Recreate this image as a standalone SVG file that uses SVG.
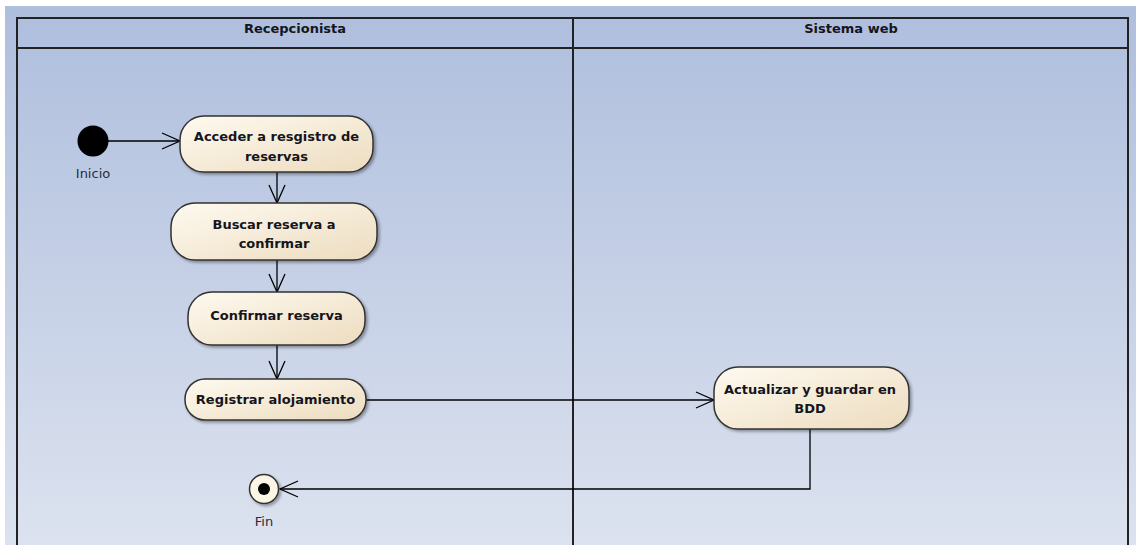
<svg xmlns="http://www.w3.org/2000/svg" width="1136" height="545" viewBox="0 0 1136 545">
<defs>
<linearGradient id="bg" x1="0" y1="0" x2="0" y2="1">
<stop offset="0" stop-color="#aebedd"/>
<stop offset="1" stop-color="#dce2ef"/>
</linearGradient>
<linearGradient id="nodeFill" x1="0" y1="0" x2="1" y2="1">
<stop offset="0" stop-color="#fefaf0"/>
<stop offset="1" stop-color="#eddcbf"/>
</linearGradient>
<filter id="sh" x="-10%" y="-10%" width="130%" height="140%">
<feGaussianBlur in="SourceAlpha" stdDeviation="1.5"/>
<feOffset dx="2" dy="2" result="b"/>
<feComponentTransfer><feFuncA type="linear" slope="0.35"/></feComponentTransfer>
<feMerge><feMergeNode/><feMergeNode in="SourceGraphic"/></feMerge>
</filter>
<marker id="open" viewBox="0 0 20 20" refX="19" refY="10" markerWidth="20" markerHeight="20" markerUnits="userSpaceOnUse" orient="auto">
<path d="M1,2 L19,10 L1,18" fill="none" stroke="#000" stroke-width="1.3"/>
</marker>
</defs>
<style>
.lane{fill:none;stroke:#222;stroke-width:2}
.hdr{font-family:"DejaVu Sans",Verdana,sans-serif;font-weight:bold;font-size:13px;fill:#151520;text-anchor:middle}
.act{fill:url(#nodeFill);stroke:#333;stroke-width:1.5;filter:url(#sh)}
.lbl{font-family:"DejaVu Sans",Verdana,sans-serif;font-weight:bold;font-size:13px;fill:#151520;text-anchor:middle}
.cap{font-family:"DejaVu Sans",Verdana,sans-serif;font-size:13px;fill:#2a2a3a;text-anchor:middle}
.edge{fill:none;stroke:#000;stroke-width:1.3;marker-end:url(#open)}
</style>
<rect x="0" y="0" width="1136" height="545" fill="#ffffff"/>
<rect x="5" y="6" width="1131" height="539" fill="url(#bg)"/>
<g id="lanes">
<path class="lane" d="M17,545 V18 H1128 V545"/>
<line class="lane" x1="17" y1="48" x2="1128" y2="48"/>
<line class="lane" x1="573" y1="18" x2="573" y2="545"/>
<text class="hdr" x="295" y="33">Recepcionista</text>
<text class="hdr" x="851" y="33">Sistema web</text>
</g>
<g id="connectors">
<line class="edge" x1="108" y1="141" x2="180" y2="141"/>
<line class="edge" x1="277" y1="172" x2="277" y2="203"/>
<line class="edge" x1="277" y1="260" x2="277" y2="292"/>
<line class="edge" x1="277" y1="345" x2="277" y2="379"/>
<line class="edge" x1="366" y1="400" x2="714" y2="400"/>
<path class="edge" d="M810,429 V489 H280"/>
</g>
<g id="inicio">
<circle cx="93" cy="141" r="15.5" fill="#000"/>
<text class="cap" x="93" y="178">Inicio</text>
</g>
<g id="acceder">
<rect class="act" x="180" y="116" width="193" height="56" rx="24"/>
<text class="lbl" x="276.5" y="141">Acceder a resgistro de</text>
<text class="lbl" x="276.5" y="161">reservas</text>
</g>
<g id="buscar">
<rect class="act" x="171" y="203" width="206" height="57" rx="24"/>
<text class="lbl" x="274" y="229">Buscar reserva a</text>
<text class="lbl" x="274" y="248">confirmar</text>
</g>
<g id="confirmar">
<rect class="act" x="188" y="292" width="177" height="53" rx="24"/>
<text class="lbl" x="276.5" y="320">Confirmar reserva</text>
</g>
<g id="registrar">
<rect class="act" x="185" y="379" width="181" height="41" rx="20"/>
<text class="lbl" x="275.5" y="404">Registrar alojamiento</text>
</g>
<g id="actualizar">
<rect class="act" x="714" y="367" width="195" height="62" rx="24"/>
<text class="lbl" x="810" y="394">Actualizar y guardar en</text>
<text class="lbl" x="810" y="413">BDD</text>
</g>
<g id="fin">
<circle cx="264" cy="489" r="14.5" fill="#fbf5e6" stroke="#333" stroke-width="1.5" filter="url(#sh)"/>
<circle cx="264" cy="489" r="6" fill="#000"/>
<text class="cap" x="264" y="526">Fin</text>
</g>
</svg>
